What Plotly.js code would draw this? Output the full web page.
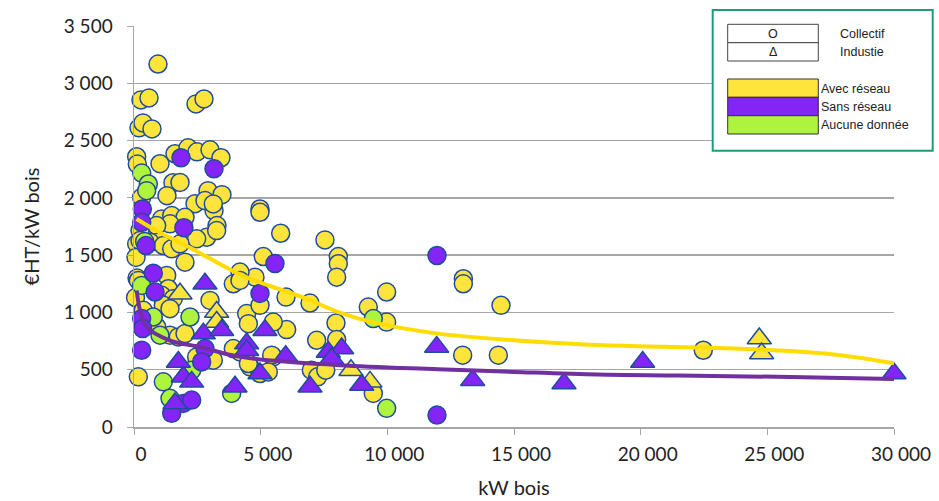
<!DOCTYPE html>
<html>
<head>
<meta charset="utf-8">
<script src="https://cdn.plot.ly/plotly-3.0.1.min.js"></script>
<style>html,body{margin:0;padding:0;background:#fff;}#chart{width:939px;height:501px;}</style>
</head>
<body>
<div id="chart"></div>
<script>
// ---- Data ----
// Collectif (circles)
const collAvecX = [947,276,592,2447,2763,197,355,710,105,131,1026,1539,1302,1618,2131,2487,3000,3434,2921,3473,2408,3158,3276,2868,2474,1816,
  303,1093,1488,2013,2802,3130,1421,895,237,105,960,237,631,1157,1488,1816,3263,2013,80,120,60,
  4973,4973,5790,7538,8065,8065,8000,5104,4776,4184,3920,9973,9248,9973,7973,6000,6947,6026,7211,8000,5498,4579,4973,7000,7250,7570,9446,4448,4973,5498,
  3000,1290,170,1354,1093,1551,1157,1421,367,895,1421,1750,2013,3130,2474,4184,4514,4184,170,3920,5435,4514,5301,
  13000,13000,14486,12974,14381,22471];
const collAvecY = [3168,2855,2872,2820,2863,2611,2654,2602,2359,2295,2298,2132,2019,2385,2437,2402,2419,2350,2063,2028,1949,1889,1758,1656,1642,2135,
  2004,1816,1845,1830,1976,1947,1773,1758,1714,1599,1613,1627,1613,1584,1555,1599,1714,1439,1480,1300,1130,
  1903,1874,1691,1633,1488,1425,1308,1488,1308,1352,1250,1178,1047,916,908,1134,1082,850,757,763,612,525,467,496,438,496,293,990,1062,916,
  1105,1323,1279,1207,1149,1120,1062,1033,1018,873,801,786,815,583,612,1279,902,655,438,685,627,554,481,
  1294,1250,1062,627,627,670];
const collSansX = [1855,3158,329,305,1970,474,5565,4973,11960,11960,762,829,303,342,2802,2671,303,1947,2277,1488];
const collSansY = [2350,2254,1903,1787,1740,1584,1427,1166,1497,104,1343,1178,946,859,685,568,670,206,235,119];
const collAucuneX = [305,566,500,420,303,762,1026,2210,1157,2277,1421,3855,9446,9973];
const collAucuneY = [2216,2121,2063,1620,1236,960,801,960,394,496,250,293,946,163];
// Industrie (triangles)
const indAvecX = [1816,3263,3263,8565,9315,24682,24774];
const indAvecY = [1163,1003,916,496,394,772,641];
const indSansX = [2802,2737,3461,4448,4448,1750,1947,2277,1618,3987,5170,5987,7669,8198,4973,6947,8988,11948,13369,16973,20079,30000,7800];
const indSansY = [1250,815,844,728,670,568,438,394,206,351,844,618,655,685,467,351,366,699,409,380,568,467,598];
// Trend lines
const trendAvecX = [100,1000,2000,3000,4200,5000,6800,8100,9400,12000,15000,18000,21000,24700,27300,30000];
const trendAvecY = [1816,1700,1590,1470,1330,1260,1120,1000,915,815,757,718,700,676,641,556];
const trendSansX = [105,250,500,1400,2600,4200,8100,12000,15000,18300,21500,25400,30000];
const trendSansY = [1192,1010,873,757,699,612,540,505,481,458,450,438,418];
// Axis ticks
const yTicks = [0,500,1000,1500,2000,2500,3000,3500];
const xTicks = [0,5000,10000,15000,20000,25000,30000];

// ---- Styles ----
const YEL = '#FFE43C', PUR = '#8424F6', GRN = '#AEF43E', EDGE = '#1F4C9C';
const mk = (c, sym, s) => ({color: c, size: s, symbol: sym, line: {color: EDGE, width: 1.5}});

const traces = [
  {x: collAvecX, y: collAvecY, mode: 'markers', type: 'scatter', cliponaxis: false, marker: mk(YEL, 'circle', 18), name: 'Collectif - Avec réseau'},
  {x: collAucuneX, y: collAucuneY, mode: 'markers', type: 'scatter', cliponaxis: false, marker: mk(GRN, 'circle', 18), name: 'Collectif - Aucune donnée'},
  {x: collSansX, y: collSansY, mode: 'markers', type: 'scatter', cliponaxis: false, marker: mk(PUR, 'circle', 18), name: 'Collectif - Sans réseau'},
  {x: indAvecX, y: indAvecY, mode: 'markers', type: 'scatter', cliponaxis: false, marker: mk(YEL, 'triangle-up', 21), name: 'Industrie - Avec réseau'},
  {x: indSansX, y: indSansY, mode: 'markers', type: 'scatter', cliponaxis: false, marker: mk(PUR, 'triangle-up', 21), name: 'Industrie - Sans réseau'},
  {x: trendAvecX, y: trendAvecY, mode: 'lines', type: 'scatter', cliponaxis: false, line: {color: '#FFDD00', width: 4, shape: 'spline', smoothing: 1}, name: 'Tendance avec réseau'},
  {x: trendSansX, y: trendSansY, mode: 'lines', type: 'scatter', cliponaxis: false, line: {color: '#7030A0', width: 4, shape: 'spline', smoothing: 1}, name: 'Tendance sans réseau'}
];

// ---- Legend drawn as a box (pixel -> paper) ----
const L = 134, R = 894, T = 26, B = 427;
const px = v => (v - L) / (R - L);
const py = v => (B - v) / (B - T);
const rect = (x0, y0, x1, y1, fill, lc, lw) => ({type: 'rect', xref: 'paper', yref: 'paper', x0: px(x0), x1: px(x1), y0: py(y1), y1: py(y0), fillcolor: fill, line: {color: lc, width: lw}, layer: 'above'});
const txt = (x, y, t, anchor) => ({xref: 'paper', yref: 'paper', x: px(x), y: py(y), text: t, showarrow: false, xanchor: anchor, yanchor: 'middle', font: {family: 'Liberation Sans, Arial', size: 12.5, color: '#222'}});

const shapes = [
  rect(712.7, 10, 932.7, 150.7, '#ffffff', '#1E9C7A', 2),
  rect(727.7, 24.3, 818.3, 42.7, '#ffffff', '#444', 1),
  rect(727.7, 42.7, 818.3, 61, '#ffffff', '#444', 1),
  rect(727.7, 79, 818.3, 97.3, YEL, '#333', 1),
  rect(727.7, 97.3, 818.3, 115.7, PUR, '#333', 1),
  rect(727.7, 115.7, 818.3, 134, GRN, '#333', 1)
];
const annotations = [
  txt(773, 33.5, 'O', 'center'),
  txt(773, 52, 'Δ', 'center'),
  txt(838, 33.5, 'Collectif', 'left'),
  txt(838, 52, 'Industie', 'left'),
  txt(819, 88.5, 'Avec réseau', 'left'),
  txt(819, 106.5, 'Sans réseau', 'left'),
  txt(819, 125, 'Aucune donnée', 'left')
];

const axisFont = {family: 'Lato, "Open Sans", sans-serif', size: 19, color: '#222'};
const layout = {
  width: 939, height: 501,
  margin: {l: L, r: 939 - R, t: T, b: 501 - B},
  paper_bgcolor: '#fff', plot_bgcolor: '#fff',
  showlegend: false,
  separators: ', ',
  font: axisFont,
  xaxis: {
    range: [0, 30000], tickvals: xTicks, tickformat: ',d', separatethousands: true,
    showgrid: false, zeroline: false, showline: true, linecolor: '#a6a6a6', linewidth: 1.5,
    ticks: 'outside', ticklen: 6, tickcolor: '#a6a6a6', ticklabelshift: 7, ticklabelstandoff: 4,
    tickfont: axisFont,
    title: {text: 'kW bois', font: {family: 'Lato, "Open Sans", sans-serif', size: 20, color: '#222'}, standoff: 16}
  },
  yaxis: {
    range: [0, 3500], tickvals: yTicks, tickformat: ',d', separatethousands: true,
    showgrid: true, gridcolor: '#a6a6a6', gridwidth: 1.5, zeroline: false,
    showline: true, linecolor: '#a6a6a6', linewidth: 1.5,
    ticks: 'outside', ticklen: 6, tickcolor: '#a6a6a6', ticklabelstandoff: 10,
    tickfont: axisFont,
    title: {text: '€HT/kW bois', font: {family: 'Lato, "Open Sans", sans-serif', size: 20, color: '#222'}, standoff: 18}
  },
  shapes: shapes,
  annotations: annotations
};

Plotly.newPlot('chart', traces, layout, {displayModeBar: false, staticPlot: true});
</script>
</body>
</html>
